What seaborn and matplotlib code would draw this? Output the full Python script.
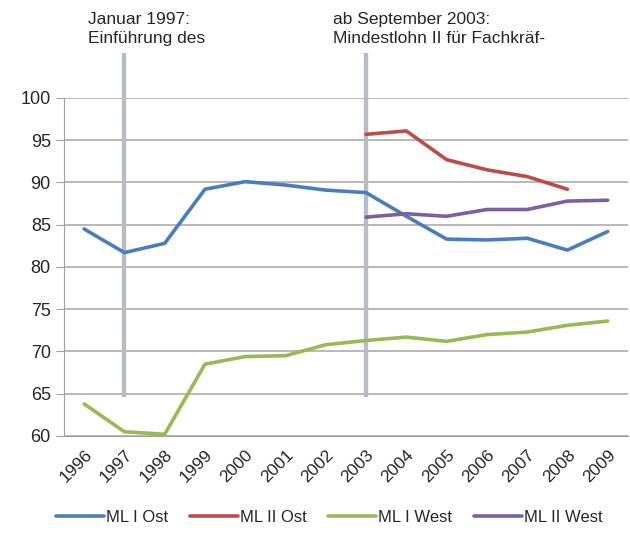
import matplotlib
matplotlib.use('Agg')
import matplotlib.pyplot as plt
import pandas as pd
import numpy as np
import seaborn as sns

years = ['1996', '1997', '1998', '1999', '2000', '2001', '2002',
         '2003', '2004', '2005', '2006', '2007', '2008', '2009']
ml1_ost = [84.5, 81.7, 82.8, 89.2, 90.1, 89.7, 89.1, 88.8, 86.0, 83.3, 83.2, 83.4, 82.0, 84.2]
ml2_ost = [np.nan] * 7 + [95.7, 96.1, 92.7, 91.5, 90.7, 89.2, np.nan]
ml1_west = [63.8, 60.5, 60.2, 68.5, 69.4, 69.5, 70.8, 71.3, 71.7, 71.2, 72.0, 72.3, 73.1, 73.6]
ml2_west = [np.nan] * 7 + [85.9, 86.3, 86.0, 86.8, 86.8, 87.8, 87.9]

series_names = ['ML I Ost', 'ML II Ost', 'ML I West', 'ML II West']
colors = ['#4A7EBB', '#BE4B48', '#98B954', '#7D60A0']

df = pd.DataFrame({'pos': np.arange(len(years)),
                   'ML I Ost': ml1_ost, 'ML II Ost': ml2_ost,
                   'ML I West': ml1_west, 'ML II West': ml2_west})
df_long = df.melt(id_vars='pos', var_name='Reihe', value_name='Wert').dropna()

sns.set_style('white')
plt.rcParams['font.family'] = ['Liberation Sans', 'DejaVu Sans']

fig = plt.figure(figsize=(6.3, 5.42), dpi=100)
ax = fig.add_axes([0.1016, 0.1956, 0.895, 0.6236])

# vertical markers for the two events
for yr in ['1997', '2003']:
    ax.plot([years.index(yr)] * 2, [64.6, 105.3], color='#B4BEC6', lw=3.2,
            clip_on=False, zorder=1, solid_capstyle='butt')

sns.lineplot(data=df_long, x='pos', y='Wert', hue='Reihe', hue_order=series_names,
             palette=colors, linewidth=2.6, ax=ax, zorder=3, sort=False)

ax.set_xlim(-0.5, len(years) - 0.5)
ax.set_ylim(60, 100)
ax.set_yticks(range(60, 101, 5))
ax.set_xticks(np.arange(len(years)))
ax.set_xticklabels(years, rotation=45, ha='right', rotation_mode='anchor')
ax.set_xticks(np.arange(len(years) + 1) - 0.5, minor=True)
ax.tick_params(axis='x', which='major', length=0, labelsize=12.5, pad=8)
ax.tick_params(axis='x', which='minor', length=6, color='#A0A0A0', direction='out')
ax.tick_params(axis='y', length=6, color='#A0A0A0', labelsize=13, left=True)
ax.grid(axis='y', color='#A6A6A6', lw=1.1)
ax.set_axisbelow(True)
for side in ['top', 'right']:
    ax.spines[side].set_visible(False)
for side in ['left', 'bottom']:
    ax.spines[side].set_color('#A0A0A0')
ax.set_xlabel('')
ax.set_ylabel('')

ax.text(years.index('1997') - 0.9, 106.2, 'Januar 1997:\nEinführung des', fontsize=12.5,
        va='bottom', ha='left', linespacing=1.3)
ax.text(years.index('2003') - 0.82, 106.2, 'ab September 2003:\nMindestlohn II für Fachkräf-',
        fontsize=12.5, va='bottom', ha='left', linespacing=1.3)

ax.legend(loc='upper center', bbox_to_anchor=(0.47, -0.175), ncol=4, frameon=False,
          fontsize=12, handlelength=2.9, handletextpad=0.1, columnspacing=1.3)

fig.savefig('out.png', dpi=100)
